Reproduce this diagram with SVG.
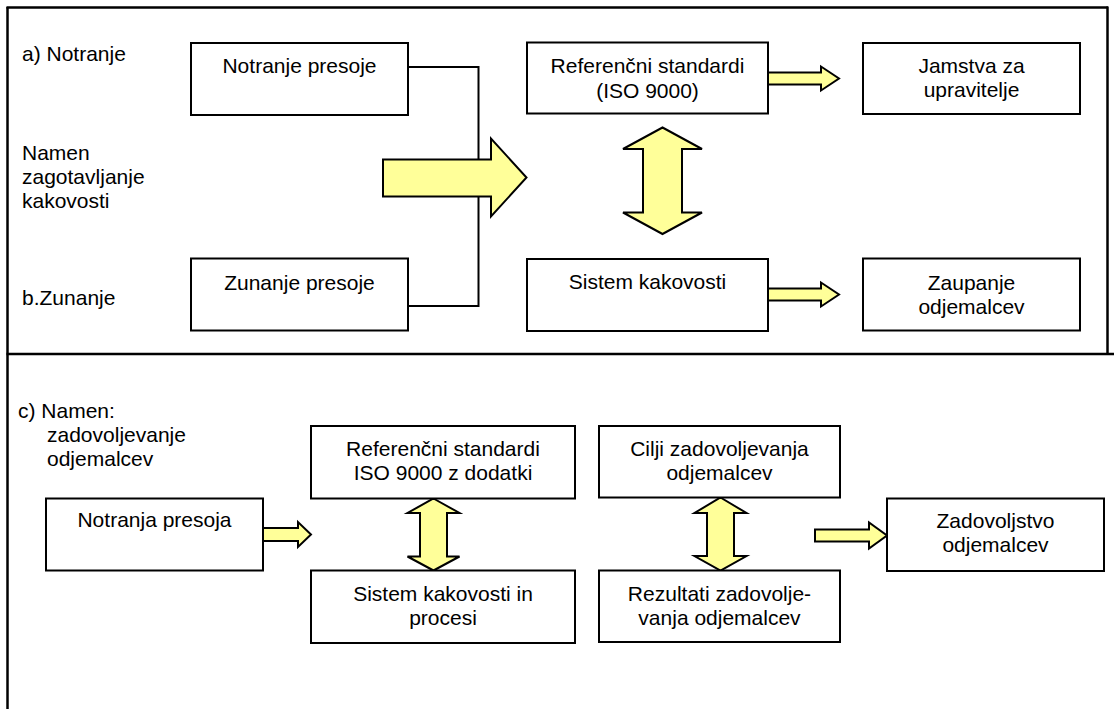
<svg xmlns="http://www.w3.org/2000/svg" width="1114" height="709" viewBox="0 0 1114 709">
<style>
.bg{fill:#ffffff}
.frame{fill:none;stroke:#000;stroke-width:2.5}
.box{fill:#ffffff;stroke:#000;stroke-width:2}
.ln{fill:none;stroke:#000;stroke-width:2}
.ar{fill:#ffff99;stroke:#000;stroke-width:2;stroke-linejoin:miter}
text{font-family:"Liberation Sans",Arial,sans-serif;font-size:21px;fill:#000}
.c{text-anchor:middle}
</style>
<rect class="bg" x="0" y="0" width="1114" height="709"/>
<g id="frame">
<line class="frame" x1="7.5" y1="7" x2="7.5" y2="709"/>
<line class="frame" x1="6.5" y1="7.5" x2="1108" y2="7.5"/>
<line class="frame" x1="1107.5" y1="6.5" x2="1107.5" y2="354"/>
<line class="frame" x1="6.5" y1="354" x2="1114" y2="354"/>
</g>
<g id="labels">
<text x="22" y="61">a) Notranje</text>
<text x="22" y="160">Namen</text>
<text x="22" y="184">zagotavljanje</text>
<text x="22" y="208">kakovosti</text>
<text x="22" y="305">b.Zunanje</text>
<text x="18" y="418">c) Namen:</text>
<text x="47" y="442">zadovoljevanje</text>
<text x="47" y="466">odjemalcev</text>
</g>
<g id="connectors">
<polyline class="ln" points="408,67 478.5,67 478.5,306 408,306"/>
<polygon class="ar" points="383,159.5 491,159.5 491,138.5 526.5,177.5 491,216.5 491,196.5 383,196.5"/>
<polygon class="ar" points="662.5,127.5 702,149 682,149 682,212.5 702,212.5 662.5,234 623,212.5 643,212.5 643,149 623,149"/>
<polygon class="ar" points="768,72.5 821,72.5 821,66.5 839,78.5 821,90.5 821,84.5 768,84.5"/>
<polygon class="ar" points="768,288.5 821,288.5 821,282.5 839,294.5 821,306.5 821,300.5 768,300.5"/>
<polygon class="ar" points="263,528 298,528 298,522 311,534.5 298,547 298,541 263,541"/>
<polygon class="ar" points="433.5,498.5 459.5,513 447,513 447,556.5 459.5,556.5 433.5,570.5 407.5,556.5 420,556.5 420,513 407.5,513"/>
<polygon class="ar" points="720.5,497.5 746.5,513 734,513 734,556 746.5,556 720.5,570.5 694.5,556 707,556 707,513 694.5,513"/>
<polygon class="ar" points="815,529.5 869,529.5 869,522.5 887,535.5 869,548.5 869,541.5 815,541.5"/>
</g>
<g id="n_notranje_presoje">
<rect class="box" x="191" y="43" width="217" height="72"/>
<text class="c" x="299.5" y="73">Notranje presoje</text>
</g>
<g id="n_zunanje_presoje">
<rect class="box" x="191" y="258.5" width="217" height="72"/>
<text class="c" x="299.5" y="290">Zunanje presoje</text>
</g>
<g id="n_ref_standardi">
<rect class="box" x="527" y="42.5" width="241" height="71"/>
<text class="c" x="647.5" y="73">Referenčni standardi</text>
<text class="c" x="647.5" y="98">(ISO 9000)</text>
</g>
<g id="n_jamstva">
<rect class="box" x="863" y="43" width="217" height="71"/>
<text class="c" x="971.5" y="73">Jamstva za</text>
<text class="c" x="971.5" y="97">upravitelje</text>
</g>
<g id="n_sistem_kakovosti">
<rect class="box" x="527" y="259" width="241" height="72"/>
<text class="c" x="647.5" y="289">Sistem kakovosti</text>
</g>
<g id="n_zaupanje">
<rect class="box" x="863" y="258.5" width="217" height="72"/>
<text class="c" x="971.5" y="290">Zaupanje</text>
<text class="c" x="971.5" y="314">odjemalcev</text>
</g>
<g id="n_ref_iso_dodatki">
<rect class="box" x="311" y="426" width="264" height="72.5"/>
<text class="c" x="443" y="456">Referenčni standardi</text>
<text class="c" x="443" y="480">ISO 9000 z dodatki</text>
</g>
<g id="n_notranja_presoja">
<rect class="box" x="46" y="498.5" width="217" height="72"/>
<text class="c" x="154.5" y="527">Notranja presoja</text>
</g>
<g id="n_sistem_procesi">
<rect class="box" x="311" y="570.5" width="264" height="72.5"/>
<text class="c" x="443" y="601">Sistem kakovosti in</text>
<text class="c" x="443" y="625">procesi</text>
</g>
<g id="n_cilji">
<rect class="box" x="599" y="426" width="241" height="71.5"/>
<text class="c" x="719.5" y="456">Cilji zadovoljevanja</text>
<text class="c" x="719.5" y="480">odjemalcev</text>
</g>
<g id="n_rezultati">
<rect class="box" x="599" y="570.5" width="241" height="71.5"/>
<text class="c" x="719.5" y="601">Rezultati zadovolje-</text>
<text class="c" x="719.5" y="625">vanja odjemalcev</text>
</g>
<g id="n_zadovoljstvo">
<rect class="box" x="887" y="498.5" width="217" height="72.5"/>
<text class="c" x="995.5" y="528">Zadovoljstvo</text>
<text class="c" x="995.5" y="552">odjemalcev</text>
</g>
</svg>
